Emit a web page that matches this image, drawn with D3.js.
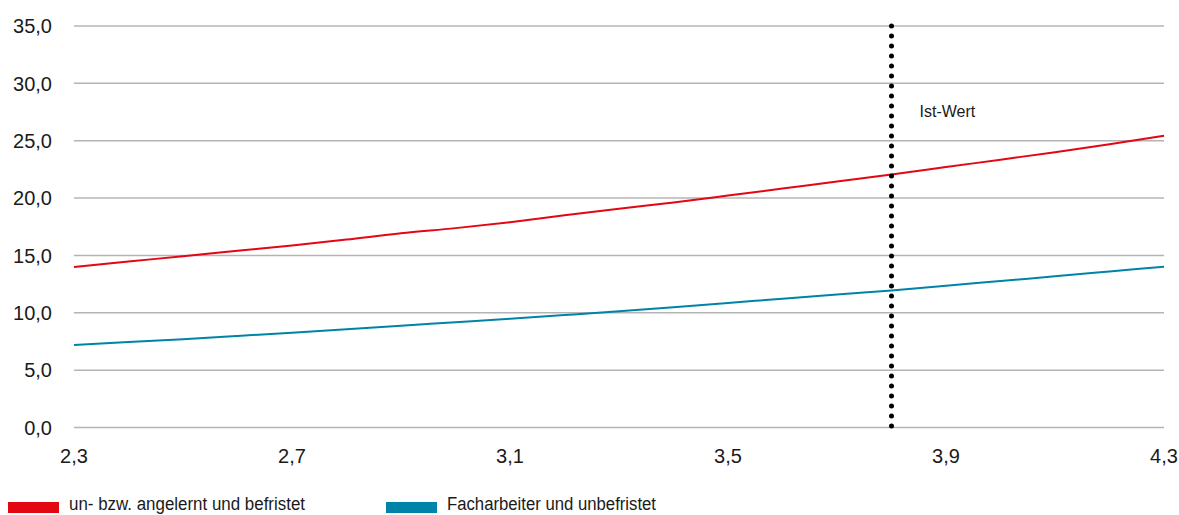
<!DOCTYPE html>
<html>
<head>
<meta charset="utf-8">
<script src="https://cdn.jsdelivr.net/npm/d3@7"></script>
<style>
  body { margin: 0; background: #fff; }
  svg { display: block; }
</style>
</head>
<body>
<svg id="chart"></svg>
<script>
var xVals = [2.3, 2.4, 2.5, 2.6, 2.7, 2.8, 2.9, 3.0, 3.1, 3.2, 3.3, 3.4, 3.5, 3.6, 3.7, 3.8, 3.9, 4.0, 4.1, 4.2, 4.3];
var redVals = [14.0, 14.47, 14.93, 15.4, 15.86, 16.38, 16.94, 17.38, 17.9, 18.5, 19.07, 19.62, 20.22, 20.83, 21.45, 22.05, 22.7, 23.35, 24.0, 24.7, 25.44];
var blueVals = [7.2, 7.45, 7.7, 7.98, 8.27, 8.57, 8.88, 9.18, 9.48, 9.8, 10.13, 10.48, 10.85, 11.23, 11.6, 11.95, 12.35, 12.77, 13.18, 13.6, 14.02];
var xTicks = [2.3, 2.7, 3.1, 3.5, 3.9, 4.3];
var yTicks = [0, 5, 10, 15, 20, 25, 30, 35];
var istWert = 3.8;
var seriesNames = ["un- bzw. angelernt und befristet", "Facharbeiter und unbefristet"];
var seriesColors = ["#e30613", "#0083a9"];

var W = 1179, H = 515;
var svg = d3.select("#chart").attr("width", W).attr("height", H);

var x = d3.scaleLinear().domain([2.3, 4.3]).range([74, 1164]);
var y = d3.scaleLinear().domain([0, 35]).range([427.5, 26]);
var fmt = function (d) { return d3.format(".1f")(d).replace(".", ","); };

// grid
svg.append("g").selectAll("line")
  .data(yTicks)
  .enter().append("line")
  .attr("x1", x(2.3)).attr("x2", x(4.3))
  .attr("y1", function (d) { return y(d); })
  .attr("y2", function (d) { return y(d); })
  .attr("stroke", "#b4b4b4")
  .attr("stroke-width", 1.5);

// y labels
svg.append("g").selectAll("text")
  .data(yTicks)
  .enter().append("text")
  .attr("x", 52)
  .attr("y", function (d) { return y(d); })
  .attr("dy", "0.36em")
  .attr("text-anchor", "end")
  .attr("font-family", "Liberation Sans, Arial, sans-serif")
  .attr("font-size", "20px")
  .attr("fill", "#1a1a1a")
  .text(fmt);

// x labels
svg.append("g").selectAll("text")
  .data(xTicks)
  .enter().append("text")
  .attr("x", function (d) { return x(d); })
  .attr("y", 463)
  .attr("text-anchor", "middle")
  .attr("font-family", "Liberation Sans, Arial, sans-serif")
  .attr("font-size", "20px")
  .attr("fill", "#1a1a1a")
  .text(fmt);

// lines
var line = d3.line()
  .x(function (d) { return x(d[0]); })
  .y(function (d) { return y(d[1]); })
  .curve(d3.curveMonotoneX);

[redVals, blueVals].forEach(function (vals, i) {
  svg.append("path")
    .datum(xVals.map(function (v, j) { return [v, vals[j]]; }))
    .attr("d", line)
    .attr("fill", "none")
    .attr("stroke", seriesColors[i])
    .attr("stroke-width", 2);
});

// Ist-Wert marker
svg.append("line")
  .attr("x1", x(istWert)).attr("x2", x(istWert))
  .attr("y1", y(35)).attr("y2", y(0))
  .attr("stroke", "#000")
  .attr("stroke-width", 5)
  .attr("stroke-linecap", "round")
  .attr("stroke-dasharray", "0,10");

svg.append("text")
  .attr("x", x(istWert) + 28)
  .attr("y", 117)
  .attr("font-family", "Liberation Sans, Arial, sans-serif")
  .attr("font-size", "16px")
  .attr("fill", "#1a1a1a")
  .text("Ist-Wert");

// legend (condensed look via textLength, no narrow font available)
var legX = [8, 386];
var legLen = [236, 209];
var leg = svg.append("g").selectAll("g")
  .data(seriesNames)
  .enter().append("g")
  .attr("transform", function (d, i) { return "translate(" + legX[i] + ",0)"; });
leg.append("rect")
  .attr("x", 0).attr("y", 502)
  .attr("width", 51).attr("height", 11)
  .attr("fill", function (d, i) { return seriesColors[i]; });
leg.append("text")
  .attr("x", 61).attr("y", 510)
  .attr("font-family", "Liberation Sans, Arial, sans-serif")
  .attr("font-size", "18px")
  .attr("textLength", function (d, i) { return legLen[i]; })
  .attr("lengthAdjust", "spacingAndGlyphs")
  .attr("fill", "#1a1a1a")
  .text(function (d) { return d; });
</script>
</body>
</html>
